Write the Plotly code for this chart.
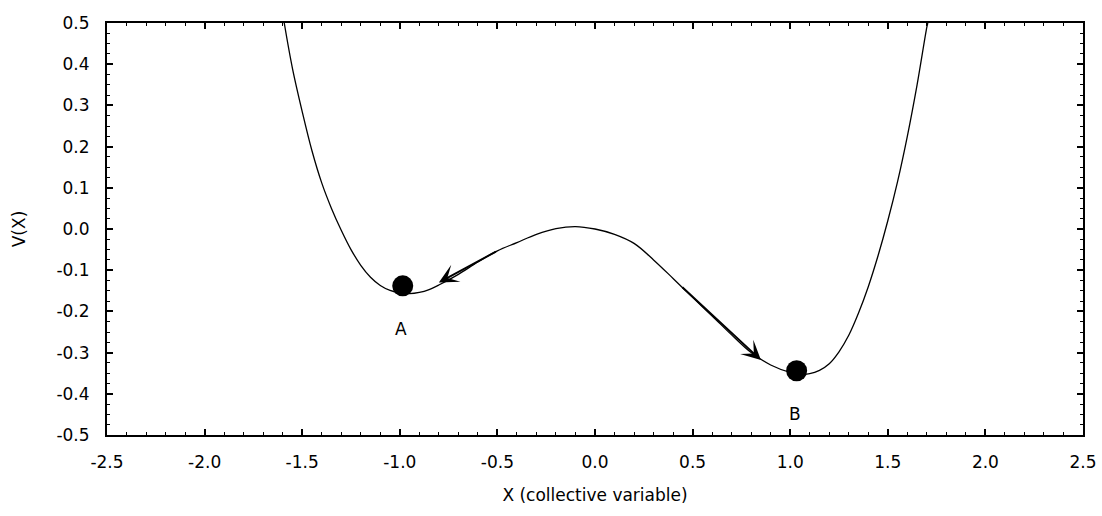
import plotly.graph_objects as go

# Potential energy profile along the collective variable
x_vals = [-1.592, -1.55, -1.50, -1.45, -1.40, -1.35, -1.30, -1.25, -1.20, -1.15,
          -1.10, -1.05, -1.00, -0.95, -0.90, -0.85, -0.80, -0.70, -0.60, -0.50,
          -0.40, -0.30, -0.20, -0.10, 0.00, 0.10, 0.20, 0.30, 0.40, 0.50,
          0.60, 0.70, 0.80, 0.90, 1.00, 1.05, 1.10, 1.15, 1.20, 1.25,
          1.30, 1.35, 1.40, 1.45, 1.50, 1.55, 1.60, 1.65, 1.70, 1.705]
v_vals = [0.500, 0.390, 0.285, 0.190, 0.112, 0.050, -0.003, -0.050, -0.088, -0.117,
          -0.137, -0.149, -0.155, -0.157, -0.154, -0.147, -0.136, -0.110, -0.080, -0.053,
          -0.033, -0.013, 0.001, 0.006, 0.000, -0.013, -0.035, -0.075, -0.120, -0.166,
          -0.211, -0.257, -0.300, -0.330, -0.348, -0.352, -0.351, -0.343, -0.327, -0.298,
          -0.258, -0.204, -0.140, -0.065, 0.020, 0.115, 0.225, 0.350, 0.490, 0.500]

# Metastable states
state_names = ["A", "B"]
state_x = [-0.985, 1.033]
state_v = [-0.138, -0.344]

# Transition arrows (tail -> head)
arrow_tail_x = [-0.50, 0.44]
arrow_tail_v = [-0.053, -0.138]
arrow_head_x = [-0.80, 0.85]
arrow_head_v = [-0.130, -0.318]

# Axis ticks
x_ticks = [-2.5, -2.0, -1.5, -1.0, -0.5, 0.0, 0.5, 1.0, 1.5, 2.0, 2.5]
x_tick_labels = ["-2.5", "-2.0", "-1.5", "-1.0", "-0.5", "0.0", "0.5", "1.0", "1.5", "2.0", "2.5"]
y_ticks = [0.5, 0.4, 0.3, 0.2, 0.1, 0.0, -0.1, -0.2, -0.3, -0.4, -0.5]
y_tick_labels = ["0.5", "0.4", "0.3", "0.2", "0.1", "0.0", "-0.1", "-0.2", "-0.3", "-0.4", "-0.5"]

FONT = "DejaVu Sans"
FS = 17

fig = go.Figure()

fig.add_trace(go.Scatter(
    x=x_vals, y=v_vals, mode="lines",
    line=dict(color="black", width=1.3, shape="spline", smoothing=1.0),
    hoverinfo="skip", showlegend=False,
))

fig.add_trace(go.Scatter(
    x=state_x, y=state_v, mode="markers",
    marker=dict(color="black", size=21, symbol="circle"),
    hoverinfo="skip", showlegend=False,
))

for name, sx, sv in zip(state_names, state_x, state_v):
    fig.add_annotation(
        x=sx, y=sv, text=name, showarrow=False,
        yshift=-43, xshift=-2,
        font=dict(family=FONT, size=FS, color="black"),
    )

for tx, tv, hx, hv in zip(arrow_tail_x, arrow_tail_v, arrow_head_x, arrow_head_v):
    fig.add_annotation(
        x=hx, y=hv, ax=tx, ay=tv, xref="x", yref="y", axref="x", ayref="y",
        text="", showarrow=True, arrowhead=3, arrowsize=1.7, arrowwidth=1.9,
        arrowcolor="black", standoff=0, startstandoff=0,
    )

axis_common = dict(
    showline=True, linecolor="black", linewidth=2, mirror="allticks",
    ticks="inside", ticklen=6, tickwidth=1.5, tickcolor="black",
    showgrid=False, zeroline=False,
    tickfont=dict(family=FONT, size=FS, color="black"),
)

fig.update_xaxes(
    range=[-2.5, 2.5], tickvals=x_ticks, ticktext=x_tick_labels,
    minor=dict(dtick=0.1, ticks="inside", ticklen=3, tickwidth=1.3, tickcolor="black", showgrid=False),
    ticklabelstandoff=11,
    title=dict(text="X (collective variable)", standoff=18,
               font=dict(family=FONT, size=FS, color="black")),
    **axis_common,
)
fig.update_yaxes(
    range=[-0.5, 0.5], tickvals=y_ticks, ticktext=y_tick_labels,
    minor=dict(dtick=0.025, ticks="inside", ticklen=3, tickwidth=1.3, tickcolor="black", showgrid=False),
    ticklabelstandoff=12,
    title=dict(text="V(X)", standoff=26,
               font=dict(family=FONT, size=FS, color="black")),
    **axis_common,
)

fig.update_layout(
    width=1102, height=516,
    margin=dict(l=107, r=19, t=23, b=81, autoexpand=False),
    plot_bgcolor="white", paper_bgcolor="white",
    showlegend=False,
)

fig.write_html("out.html")
